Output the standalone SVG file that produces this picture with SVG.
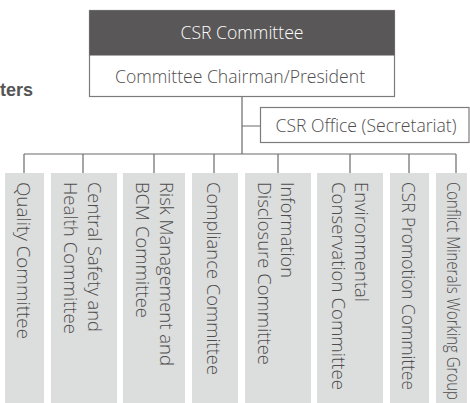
<svg xmlns="http://www.w3.org/2000/svg" width="470" height="403" viewBox="0 0 470 403">
<style>
.t{font-family:"Open Sans","Noto Sans",sans-serif;font-size:18.2px;font-weight:300;fill:#4f4d4d}
.h{font-size:17.6px}
.col{fill:#dcdddd}
.ln{stroke:#6d6b6b;stroke-width:1.2;fill:none}
.box{fill:#fff;stroke:#7d7b7b;stroke-width:1.2}
</style>
<rect width="470" height="403" fill="#fff"/>
<text x="0" y="95.5" style="font-family:'Liberation Sans',Arial,sans-serif;font-size:18px;font-weight:bold;fill:#555">ters</text>
<g id="connectors" class="ln">
<path d="M242 97V154M242 126H260M24 154H456M24 154V173M83 154V173M154 154V173M214 154V173M278 154V173M350 154V173M409 154V173M456 154V173"/>
</g>
<g id="csr-committee">
<rect class="box" x="89.5" y="10.5" width="305" height="86"/>
<rect x="89.5" y="10.5" width="305" height="45" fill="#595757"/>
<text class="t h" x="242" y="39" text-anchor="middle" style="fill:#fff">CSR Committee</text>
<text class="t h" x="240" y="83" text-anchor="middle">Committee Chairman/President</text>
</g>
<g id="csr-office">
<rect class="box" x="260.5" y="107.5" width="208.5" height="35"/>
<text class="t h" x="366" y="131.5" text-anchor="middle">CSR Office (Secretariat)</text>
</g>
<g id="quality">
<rect class="col" x="5" y="173" width="39" height="230"/>
<text class="t" transform="translate(17,182) rotate(90)" textLength="157" lengthAdjust="spacingAndGlyphs">Quality Committee</text>
</g>
<g id="safety">
<rect class="col" x="51" y="173" width="66" height="230"/>
<text class="t" transform="translate(88,182) rotate(90)" textLength="150" lengthAdjust="spacingAndGlyphs">Central Safety and</text>
<text class="t" transform="translate(64,182) rotate(90)" textLength="152" lengthAdjust="spacingAndGlyphs">Health Committee</text>
</g>
<g id="risk">
<rect class="col" x="123" y="173" width="62" height="230"/>
<text class="t" transform="translate(160,182) rotate(90)" textLength="184" lengthAdjust="spacingAndGlyphs">Risk Management and</text>
<text class="t" transform="translate(136,182) rotate(90)" textLength="136" lengthAdjust="spacingAndGlyphs">BCM Committee</text>
</g>
<g id="compliance">
<rect class="col" x="192" y="173" width="46" height="230"/>
<text class="t" transform="translate(207,182) rotate(90)" textLength="193" lengthAdjust="spacingAndGlyphs">Compliance Committee</text>
</g>
<g id="disclosure">
<rect class="col" x="245" y="173" width="66" height="230"/>
<text class="t" transform="translate(281,182) rotate(90)" textLength="96" lengthAdjust="spacingAndGlyphs">Information</text>
<text class="t" transform="translate(258,182) rotate(90)" textLength="183" lengthAdjust="spacingAndGlyphs">Disclosure Committee</text>
</g>
<g id="environment">
<rect class="col" x="317" y="173" width="66" height="230"/>
<text class="t" transform="translate(355,182) rotate(90)" textLength="120" lengthAdjust="spacingAndGlyphs">Environmental</text>
<text class="t" transform="translate(332,182) rotate(90)" textLength="208" lengthAdjust="spacingAndGlyphs">Conservation Committee</text>
</g>
<g id="promotion">
<rect class="col" x="390" y="173" width="39" height="230"/>
<text class="t" transform="translate(402,182) rotate(90)" textLength="208" lengthAdjust="spacingAndGlyphs">CSR Promotion Committee</text>
</g>
<g id="conflict">
<rect class="col" x="436" y="173" width="31" height="230"/>
<text class="t" transform="translate(447,182) rotate(90)" textLength="218" lengthAdjust="spacingAndGlyphs">Conflict Minerals Working Group</text>
</g>
</svg>
